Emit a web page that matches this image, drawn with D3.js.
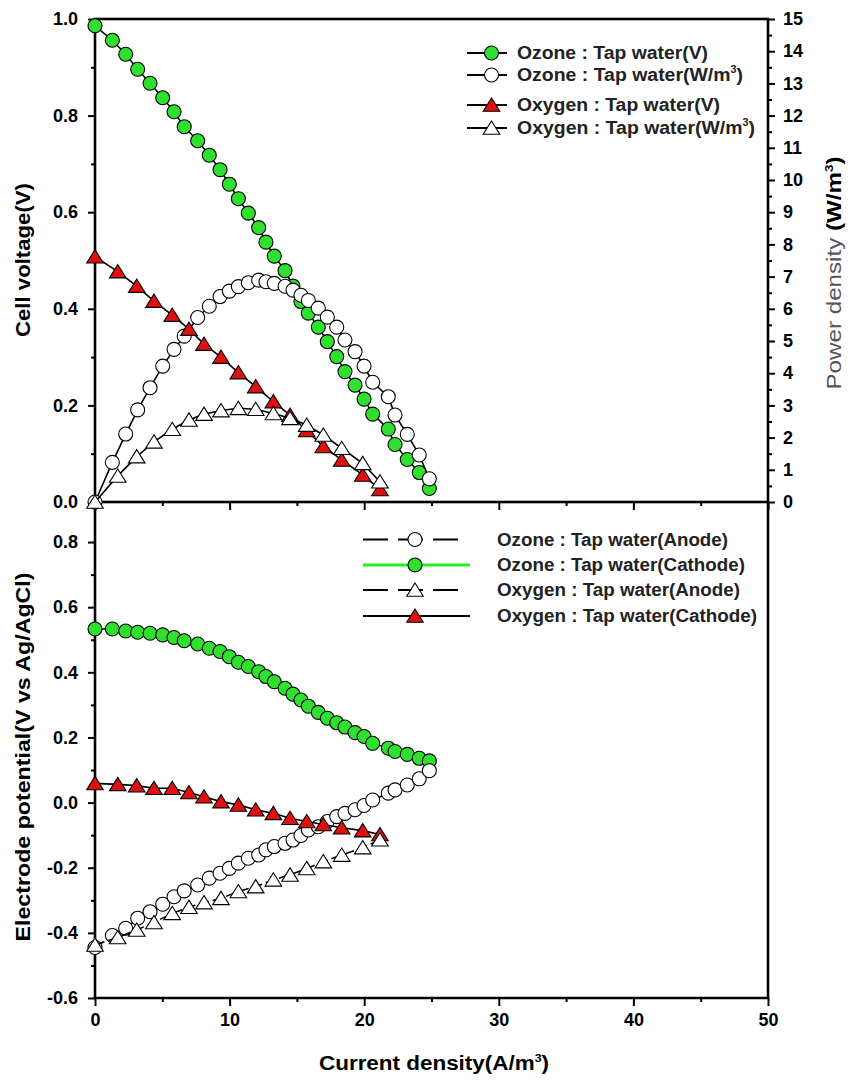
<!DOCTYPE html>
<html><head><meta charset="utf-8">
<script src="https://cdn.jsdelivr.net/npm/d3@7"></script>
<style>
body{margin:0;background:#fff}
svg{display:block}
text{font-family:"Liberation Sans",Arial,sans-serif}
</style>
</head><body>
<svg id="c" width="852" height="1083"></svg>
<script>
// ---------- data ----------
const ozoneCurrent = [0,1.29,2.28,3.17,4.09,5.03,5.87,6.63,7.63,8.49,9.29,9.98,10.65,11.39,12.16,12.70,13.32,14.12,14.71,15.30,15.85,16.59,17.26,17.96,18.57,19.32,19.99,20.63,21.79,22.29,23.20,24.09,24.84];
const ozoneVoltage = [0.986,0.956,0.927,0.896,0.867,0.837,0.808,0.777,0.748,0.718,0.688,0.658,0.628,0.598,0.568,0.538,0.509,0.479,0.447,0.415,0.391,0.362,0.332,0.301,0.270,0.242,0.213,0.182,0.151,0.119,0.088,0.061,0.028];
const ozonePower = [0,1.23,2.11,2.86,3.55,4.22,4.74,5.15,5.73,6.08,6.38,6.55,6.69,6.81,6.89,6.84,6.79,6.70,6.58,6.42,6.26,6.02,5.74,5.43,5.03,4.67,4.22,3.72,3.27,2.70,2.10,1.46,0.72];
const oxygenCurrent = [0,1.69,3.10,4.38,5.74,6.98,8.10,9.36,10.65,11.94,13.25,14.49,15.73,16.96,18.33,19.89,21.17];
const oxygenVoltage = [0.508,0.477,0.447,0.416,0.387,0.358,0.327,0.300,0.268,0.239,0.208,0.180,0.148,0.115,0.087,0.056,0.026];
const oxygenPower = [0,0.81,1.41,1.87,2.26,2.55,2.73,2.84,2.91,2.88,2.75,2.60,2.39,2.08,1.67,1.20,0.63];

const ozoneAnode = [-0.445,-0.408,-0.386,-0.355,-0.335,-0.312,-0.289,-0.271,-0.253,-0.232,-0.217,-0.202,-0.186,-0.171,-0.161,-0.145,-0.135,-0.125,-0.115,-0.101,-0.084,-0.074,-0.058,-0.043,-0.033,-0.022,-0.009,0.008,0.029,0.039,0.054,0.073,0.098];
const ozoneCathode = [0.533,0.533,0.527,0.523,0.520,0.515,0.507,0.497,0.487,0.474,0.464,0.448,0.431,0.418,0.402,0.387,0.371,0.351,0.333,0.315,0.296,0.277,0.259,0.245,0.232,0.215,0.203,0.182,0.167,0.157,0.148,0.136,0.128];
const oxygenAnode = [-0.437,-0.414,-0.391,-0.368,-0.340,-0.321,-0.307,-0.294,-0.273,-0.258,-0.237,-0.222,-0.202,-0.181,-0.161,-0.138,-0.114];
const oxygenCathode = [0.059,0.056,0.052,0.044,0.044,0.031,0.018,0.003,-0.007,-0.022,-0.033,-0.048,-0.058,-0.067,-0.077,-0.086,-0.098];

const xTicks = [0,10,20,30,40,50];
const xMinor = [5,15,25,35,45];
const voltTicks = [0,0.2,0.4,0.6,0.8,1.0];
const voltMinor = [0.1,0.3,0.5,0.7,0.9];
const powerTicks = [0,1,2,3,4,5,6,7,8,9,10,11,12,13,14,15];
const powerMinor = [0.5,1.5,2.5,3.5,4.5,5.5,6.5,7.5,8.5,9.5,10.5,11.5,12.5,13.5,14.5];
const potTicks = [-0.6,-0.4,-0.2,0,0.2,0.4,0.6,0.8];
const potMinor = [-0.5,-0.3,-0.1,0.1,0.3,0.5,0.7];

const topLegend = ["Ozone : Tap water(V)","Ozone : Tap water(W/m","Oxygen : Tap water(V)","Oxygen : Tap water(W/m"];
const bottomLegend = ["Ozone : Tap water(Anode)","Ozone : Tap water(Cathode)","Oxygen : Tap water(Anode)","Oxygen : Tap water(Cathode)"];

// ---------- layout ----------
const GREEN = "#2fe02f", RED = "#e01010";
const L = 95, R = 768, T = 19, MID = 502, B = 998;
const svg = d3.select("#c");
const x = d3.scaleLinear().domain([0,50]).range([L,R]);
const yV = d3.scaleLinear().domain([0,1]).range([MID,T]);
const yP = d3.scaleLinear().domain([0,15]).range([MID,T]);
const yE = d3.scaleLinear().domain([-0.6,0.923]).range([B,MID]);

function styleAxis(g){
  g.select(".domain").remove();
  g.selectAll("line").attr("stroke","#000").attr("stroke-width",2);
  g.selectAll("text").attr("font-size",18).attr("font-weight","bold").attr("fill","#000")
   .attr("font-family","'Liberation Sans',Arial,sans-serif");
}
function addAxis(gen, tx, ty){
  const g = svg.append("g").attr("transform",`translate(${tx},${ty})`).call(gen);
  styleAxis(g); return g;
}
const f1 = d => d.toFixed(1);
// top panel axes
addAxis(d3.axisLeft(yV).tickValues(voltTicks).tickSize(7).tickPadding(10).tickFormat(f1), L, 0);
addAxis(d3.axisLeft(yV).tickValues(voltMinor).tickSize(4).tickFormat(""), L, 0);
addAxis(d3.axisRight(yP).tickValues(powerTicks).tickSize(7).tickPadding(8).tickFormat(d3.format("d")), R, 0);
addAxis(d3.axisRight(yP).tickValues(powerMinor).tickSize(4).tickFormat(""), R, 0);
addAxis(d3.axisBottom(x).tickValues(xTicks).tickSize(8).tickFormat(""), 0, MID);
addAxis(d3.axisBottom(x).tickValues(xMinor).tickSize(4).tickFormat(""), 0, MID);
// bottom panel axes
addAxis(d3.axisLeft(yE).tickValues(potTicks).tickSize(7).tickPadding(10).tickFormat(f1), L, 0);
addAxis(d3.axisLeft(yE).tickValues(potMinor).tickSize(4).tickFormat(""), L, 0);
addAxis(d3.axisBottom(x).tickValues(xTicks).tickSize(8).tickPadding(7).tickFormat(d3.format("d")), 0, B);
addAxis(d3.axisBottom(x).tickValues(xMinor).tickSize(4).tickFormat(""), 0, B);

// frames
const frame = svg.append("g").attr("stroke","#000").attr("stroke-width",2.6).attr("fill","none");
frame.append("rect").attr("x",L).attr("y",T).attr("width",R-L).attr("height",MID-T);
frame.append("polyline").attr("points",`${L},${MID} ${L},${B} ${R},${B} ${R},${MID}`);

// ---------- series ----------
const circleD = d3.symbol(d3.symbolCircle, Math.PI*49)();
const triD = "M0,-7L8.3,6.3L-8.3,6.3Z";
function series(xs, ys, ysc, shape, fill, lineColor, dash){
  const g = svg.append("g");
  const pts = xs.map((v,i)=>[x(v), ysc(ys[i])]);
  g.append("path").attr("d", d3.line()(pts)).attr("fill","none")
    .attr("stroke", lineColor).attr("stroke-width",1.6).attr("stroke-dasharray", dash || null);
  g.selectAll("path.m").data(pts).join("path").attr("class","m")
    .attr("transform", d=>`translate(${d[0]},${d[1]})`).attr("d", shape)
    .attr("fill", fill).attr("stroke","#000").attr("stroke-width",1.1);
}
series(ozoneCurrent, ozoneVoltage, yV, circleD, GREEN, "#000");
series(ozoneCurrent, ozonePower, yP, circleD, "#fff", "#000");
series(oxygenCurrent, oxygenVoltage, yV, triD, RED, "#000");
series(oxygenCurrent, oxygenPower, yP, triD, "#fff", "#000");

series(ozoneCurrent, ozoneCathode, yE, circleD, GREEN, "#000");
series(ozoneCurrent, ozoneAnode, yE, circleD, "#fff", "#000", "10,4");
series(oxygenCurrent, oxygenCathode, yE, triD, RED, "#000");
series(oxygenCurrent, oxygenAnode, yE, triD, "#fff", "#000", "10,4");

// ---------- legends ----------
function legText(xp, yp, label, sup, len){
  const t = svg.append("text").attr("x",xp).attr("y",yp).attr("dy","0.36em")
    .attr("font-size",18).attr("font-weight","bold").attr("fill","#222")
    .attr("textLength",len).attr("lengthAdjust","spacingAndGlyphs");
  t.append("tspan").text(label);
  if(sup){
    t.append("tspan").attr("font-size",10).attr("dy",-8).text("3");
    t.append("tspan").attr("dy",8).text(")");
  }
}
const topRows = [53,75,105,128];
const topLens = [191,226,203,238];
const topShapes = [[circleD,GREEN],[circleD,"#fff"],[triD,RED],[triD,"#fff"]];
topLegend.forEach((lab,i)=>{
  const y0 = topRows[i];
  svg.append("line").attr("x1",467).attr("x2",507).attr("y1",y0).attr("y2",y0).attr("stroke","#000").attr("stroke-width",1.8);
  svg.append("path").attr("d",topShapes[i][0]).attr("transform",`translate(491.5,${y0})`)
    .attr("fill",topShapes[i][1]).attr("stroke","#000").attr("stroke-width",1.1);
  legText(517, y0, lab, i%2===1, topLens[i]);
});
const botRows = [539.5,565,590,616];
const botLens = [231,248,243,260];
const botShapes = [[circleD,"#fff","#000","25,10",458],[circleD,GREEN,"#22ee22",null,470],[triD,"#fff","#000","25,10",458],[triD,RED,"#000",null,470]];
bottomLegend.forEach((lab,i)=>{
  const y0 = botRows[i], s = botShapes[i];
  svg.append("line").attr("x1",363).attr("x2",s[4]).attr("y1",y0).attr("y2",y0)
    .attr("stroke",s[2]).attr("stroke-width",i===1?3:2).attr("stroke-dasharray",s[3]);
  svg.append("path").attr("d",s[0]).attr("transform",`translate(415,${y0})`)
    .attr("fill",s[1]).attr("stroke","#000").attr("stroke-width",1.1);
  legText(497, y0, lab, false, botLens[i]);
});

// ---------- axis titles ----------
function vTitle(xp, yp, len){
  return svg.append("text").attr("transform",`translate(${xp},${yp}) rotate(-90)`)
    .attr("text-anchor","middle").attr("dy","0.36em").attr("font-size",20)
    .attr("textLength",len).attr("lengthAdjust","spacingAndGlyphs");
}
vTitle(23,260,154).attr("font-weight","bold").text("Cell voltage(V)");
vTitle(23,757,369).attr("font-weight","bold").text("Electrode potential(V vs Ag/AgCl)");
const pt = vTitle(834,273,233);
pt.append("tspan").attr("fill","#555").text("Power density ");
pt.append("tspan").attr("font-weight","bold").text("(W/m");
pt.append("tspan").attr("font-weight","bold").attr("font-size",11).attr("dy",-8).text("3");
pt.append("tspan").attr("font-weight","bold").attr("dy",8).text(")");
const xt = svg.append("text").attr("x",434).attr("y",1063).attr("text-anchor","middle").attr("dy","0.36em")
  .attr("font-size",20).attr("font-weight","bold").attr("textLength",230).attr("lengthAdjust","spacingAndGlyphs");
xt.append("tspan").text("Current density(A/m");
xt.append("tspan").attr("font-size",11).attr("dy",-8).text("3");
xt.append("tspan").attr("dy",8).text(")");
</script>
</body></html>
